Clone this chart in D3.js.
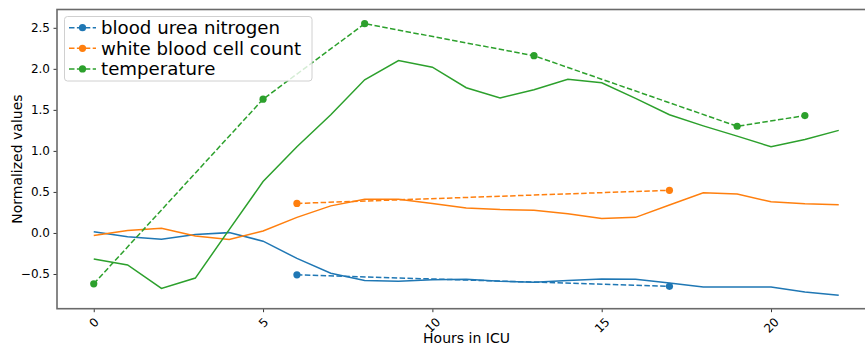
<!DOCTYPE html>
<html>
<head>
<meta charset="utf-8">
<script src="https://cdn.jsdelivr.net/npm/d3@7"></script>
<style>
  body { margin: 0; background: #fff; }
  text { font-family: "DejaVu Sans", sans-serif; fill: #000; }
</style>
</head>
<body>
<script>
// data
var hours = d3.range(0, 23);
var bunSolid = [0.016, -0.045, -0.077, -0.02, 0.004, -0.10, -0.31, -0.49, -0.58, -0.59, -0.57,
  -0.565, -0.59, -0.60, -0.58, -0.56, -0.565, -0.61, -0.66, -0.66, -0.66, -0.72, -0.76];
var wbcSolid = [-0.03, 0.03, 0.057, -0.037, -0.08, 0.024, 0.19, 0.33, 0.41, 0.41, 0.36,
  0.305, 0.285, 0.277, 0.235, 0.175, 0.19, 0.34, 0.49, 0.475, 0.38, 0.355, 0.345];
var tempSolid = [-0.317, -0.39, -0.675, -0.55, 0.04, 0.626, 1.05, 1.44, 1.866, 2.10, 2.02,
  1.77, 1.646, 1.744, 1.874, 1.83, 1.64, 1.44, 1.305, 1.18, 1.05, 1.14, 1.25];

var bunHours = [6, 17];
var bunObs = [-0.51, -0.65];
var wbcHours = [6, 17];
var wbcObs = [0.36, 0.52];
var tempHours = [0, 5, 8, 13, 19, 21];
var tempObs = [-0.62, 1.63, 2.55, 2.16, 1.30, 1.43];

var seriesNames = ["blood urea nitrogen", "white blood cell count", "temperature"];
var colors = ["#1f77b4", "#ff7f0e", "#2ca02c"];
var xTicks = [0, 5, 10, 15, 20];
var yTicks = [-0.5, 0.0, 0.5, 1.0, 1.5, 2.0, 2.5];

var svgWidth = 865;
var svgHeight = 348;

var margin = { top: 9.5, left: 57 };
var width = 819;      // axes run past the right edge of the picture
var height = 299.2;

var svg = d3.select("body")
  .append("svg")
  .attr("width", svgWidth)
  .attr("height", svgHeight);

var chartGroup = svg.append("g")
  .attr("transform", `translate(${margin.left}, ${margin.top})`);

var xScale = d3.scaleLinear()
  .domain([-1.085, 23.1])
  .range([0, width]);

var yScale = d3.scaleLinear()
  .domain([-0.923, 2.723])
  .range([height, 0]);

var line = d3.line()
  .x(d => xScale(d[0]))
  .y(d => yScale(d[1]));

var solids = [bunSolid, wbcSolid, tempSolid];
var obsX = [bunHours, wbcHours, tempHours];
var obsY = [bunObs, wbcObs, tempObs];

// solid lines
solids.forEach(function(vals, i) {
  chartGroup.append("path")
    .datum(hours.map((h, j) => [h, vals[j]]))
    .attr("fill", "none")
    .attr("stroke", colors[i])
    .attr("stroke-width", 1.5)
    .attr("d", line);
});

// dashed lines with markers
obsX.forEach(function(xs, i) {
  var pts = xs.map((h, j) => [h, obsY[i][j]]);
  chartGroup.append("path")
    .datum(pts)
    .attr("fill", "none")
    .attr("stroke", colors[i])
    .attr("stroke-width", 1.5)
    .attr("stroke-dasharray", "5.5,2.4")
    .attr("d", line);
  chartGroup.selectAll(null)
    .data(pts)
    .enter()
    .append("circle")
    .attr("cx", d => xScale(d[0]))
    .attr("cy", d => yScale(d[1]))
    .attr("r", 3.6)
    .attr("fill", colors[i]);
});

// axes
var bottomAxis = d3.axisBottom(xScale).tickValues(xTicks).tickSize(3.5).tickPadding(3.5).tickFormat(d3.format("d"));
var leftAxis = d3.axisLeft(yScale).tickValues(yTicks).tickSize(3.5).tickPadding(3.5)
  .tickFormat(d => d3.format(".1f")(d).replace("-", "\u2212"));

var xAxisG = chartGroup.append("g")
  .attr("transform", `translate(0, ${height})`)
  .call(bottomAxis);
var yAxisG = chartGroup.append("g").call(leftAxis);

[xAxisG, yAxisG].forEach(function(g) {
  g.select(".domain").remove();
  g.selectAll(".tick line").attr("stroke", "#000").attr("stroke-width", 0.8);
  g.selectAll(".tick text").style("font-size", "12px").style("font-family", "DejaVu Sans");
});

// rotate x tick labels 45 degrees, centred under the tick
xAxisG.selectAll(".tick text").each(function() {
  var t = d3.select(this);
  var w = this.getComputedTextLength();
  var h = 12;
  var cy = 3.5 + 3.5 + (w + h) * 0.7071 / 2;
  t.attr("y", null).attr("dy", null)
    .attr("text-anchor", "middle")
    .attr("dominant-baseline", "central")
    .attr("transform", `translate(0, ${cy}) rotate(-45)`);
});

// frame
chartGroup.append("rect")
  .attr("width", width)
  .attr("height", height)
  .attr("fill", "none")
  .attr("stroke", "#6a6a6a")
  .attr("stroke-width", 1.6);

// axis labels
svg.append("text")
  .attr("x", margin.left + width / 2)
  .attr("y", 343)
  .attr("text-anchor", "middle")
  .style("font-size", "14px")
  .text("Hours in ICU");

svg.append("text")
  .attr("transform", `translate(22, ${margin.top + height / 2}) rotate(-90)`)
  .attr("text-anchor", "middle")
  .style("font-size", "14px")
  .text("Normalized values");

// legend
var legend = svg.append("g");
legend.append("rect")
  .attr("x", 64.5)
  .attr("y", 16.5)
  .attr("width", 247.5)
  .attr("height", 64.5)
  .attr("rx", 3)
  .attr("fill", "#fff")
  .attr("fill-opacity", 0.8)
  .attr("stroke", "#d0d0d0")
  .attr("stroke-width", 1);

seriesNames.forEach(function(name, i) {
  var cy = 27.7 + i * 20.6;
  legend.append("line")
    .attr("x1", 69).attr("x2", 96)
    .attr("y1", cy).attr("y2", cy)
    .attr("stroke", colors[i])
    .attr("stroke-width", 1.5)
    .attr("stroke-dasharray", "5.5,2.4");
  legend.append("circle")
    .attr("cx", 82.5).attr("cy", cy).attr("r", 3.6)
    .attr("fill", colors[i]);
  legend.append("text")
    .attr("x", 101)
    .attr("y", cy + 6.5)
    .style("font-size", "18.2px")
    .text(name);
});
</script>
</body>
</html>
